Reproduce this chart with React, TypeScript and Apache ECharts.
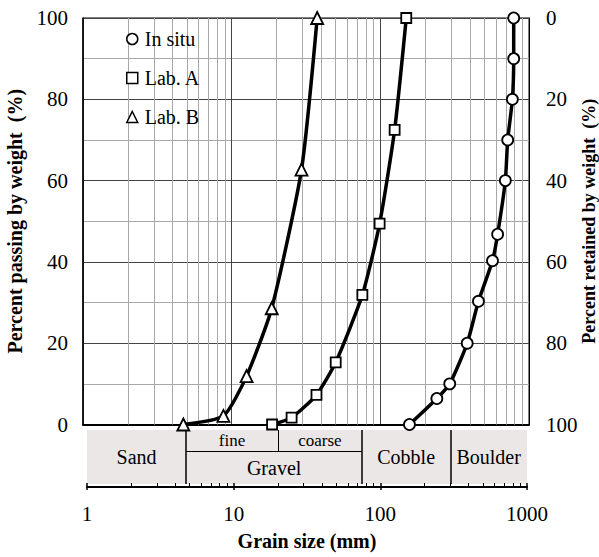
import React, { useEffect, useRef } from 'react';
import * as echarts from 'echarts';

// ---- data ----
const inSituSize = [157, 240, 293, 384, 457, 568, 615, 693, 719, 773, 789, 789];
const inSituPassing = [0, 6.4, 10, 20, 30.3, 40.3, 46.8, 60, 70, 80, 90, 100];
const labASize = [18.7, 25.3, 37.2, 50.1, 75.7, 98.9, 124.8, 149.4];
const labAPassing = [0, 1.7, 7.3, 15.3, 31.9, 49.4, 72.5, 100];
const labBSize = [4.73, 8.8, 12.6, 18.6, 29.5, 37.6];
const labBPassing = [0, 2.1, 11.9, 28.6, 62.7, 100];

// soil classes: boundaries (mm) and names
const classBounds = [1, 4.75, 20, 75, 300, 1000];
const classNames = ['Sand', 'Gravel', 'Cobble', 'Boulder'];
const gravelSubNames = ['fine', 'coarse'];

const decades = [1, 10, 100];
const minorMultipliers = [2, 3, 4, 5, 6, 7, 8, 9];
const majorXTicks = [1, 10, 100, 1000];

const FONT = "'Liberation Serif', 'Times New Roman', serif";

const zip = (xs: number[], ys: number[]) => xs.map((x, i) => [x, ys[i]]);

export default function App() {
  const ref = useRef<HTMLDivElement>(null);
  useEffect(() => {
    if (!ref.current) return;
    const chart = echarts.init(ref.current, null, { renderer: 'svg' });
    const minorX = decades.flatMap((d) => minorMultipliers.map((m) => m * d));

    // band geometry in band-grid units (pixels above the lower axis)
    const bandBottom = 3;
    const bandMid = 36;
    const bandTop = 57;

    const [b0, b1, b2, b3, b4, b5] = classBounds;

    const markerStyle = { color: '#fff', borderColor: '#000', borderWidth: 1.8 };
    const lineSeries = (name: string, data: number[][], symbol: string, size: number) => ({
      name,
      type: 'line',
      xAxisIndex: 0,
      yAxisIndex: 0,
      data,
      symbol,
      symbolSize: size,
      showAllSymbol: true,
      smooth: 0.2,
      clip: false,
      z: 3,
      lineStyle: { color: '#000', width: 3.5 },
      itemStyle: markerStyle,
    });
    const legendIcon = { color: '#fff', borderColor: '#000', borderWidth: 1.5 };

    const option: any = {
      animation: false,
      backgroundColor: '#fff',
      textStyle: { fontFamily: FONT, color: '#000' },
      grid: [
        { left: 83, top: 18, width: 446, height: 406.5, show: true, borderColor: '#000', borderWidth: 1, backgroundColor: 'transparent', containLabel: false, outerBoundsMode: 'none' },
        { left: 87, top: 430, width: 440, height: 61, containLabel: false, outerBoundsMode: 'none' },
      ],
      legend: {
        orient: 'vertical',
        left: 121,
        top: 24,
        itemWidth: 11,
        itemHeight: 11,
        itemGap: 19,
        selectedMode: false,
        textStyle: { fontSize: 20, fontFamily: FONT, color: '#000', padding: [0, 0, 0, 2] },
        data: [
          { name: 'In situ', icon: 'circle', itemStyle: legendIcon },
          { name: 'Lab. A', icon: 'rect', itemStyle: legendIcon },
          { name: 'Lab. B', icon: 'triangle', itemStyle: legendIcon },
        ],
      },
      xAxis: [
        {
          type: 'log',
          gridIndex: 0,
          logBase: 10,
          min: 1,
          max: 1000,
          axisLine: { show: true, lineStyle: { color: '#000', width: 2 } },
          axisTick: { show: false },
          axisLabel: { show: false },
          splitLine: { show: true, lineStyle: { color: '#444', width: 1 } },
        },
        {
          type: 'log',
          gridIndex: 1,
          logBase: 10,
          min: 1,
          max: 1000,
          axisLine: { show: true, onZero: true, lineStyle: { color: '#000', width: 2 } },
          axisTick: { show: false },
          axisLabel: { show: true, fontSize: 21, margin: 12, color: '#000', fontFamily: FONT, formatter: (v: number) => String(v) },
          splitLine: { show: false },
          name: 'Grain size (mm)',
          nameLocation: 'middle',
          nameGap: 40,
          nameMoveOverlap: false,
          nameTextStyle: { fontSize: 20, fontWeight: 'bold', fontFamily: FONT, color: '#000' },
        },
      ],
      yAxis: [
        {
          type: 'value',
          gridIndex: 0,
          position: 'left',
          min: 0,
          max: 100,
          interval: 20,
          name: 'Percent passing by weight  (%)',
          nameLocation: 'middle',
          nameRotate: 90,
          nameGap: 58,
          nameMoveOverlap: false,
          nameTextStyle: { fontSize: 20, fontWeight: 'bold', fontFamily: FONT, color: '#000' },
          axisLine: { show: true, lineStyle: { color: '#000', width: 1.5 } },
          axisTick: { show: false },
          axisLabel: { fontSize: 21, margin: 15, color: '#000', fontFamily: FONT },
          splitLine: { show: true, lineStyle: { color: '#444', width: 1 } },
          minorTick: { show: false, splitNumber: 2 },
          minorSplitLine: { show: true, lineStyle: { color: '#a8a8a8', width: 1 } },
        },
        {
          type: 'value',
          gridIndex: 0,
          position: 'right',
          inverse: true,
          min: 0,
          max: 100,
          interval: 20,
          name: 'Percent retained by weight  (%)',
          nameLocation: 'middle',
          nameRotate: 90,
          nameGap: 51,
          nameMoveOverlap: false,
          nameTextStyle: { fontSize: 18, fontWeight: 'bold', fontFamily: FONT, color: '#000' },
          axisLine: { show: true, lineStyle: { color: '#000', width: 1 } },
          axisTick: { show: false },
          axisLabel: { fontSize: 21, margin: 17, color: '#000', fontFamily: FONT },
          splitLine: { show: false },
        },
        { type: 'value', gridIndex: 1, min: -4, max: 57, show: false },
      ],
      series: [
        {
          name: 'minor-grid',
          type: 'line',
          xAxisIndex: 0,
          yAxisIndex: 0,
          data: [],
          silent: true,
          markLine: {
            silent: true,
            z: 1,
            symbol: ['none', 'none'],
            label: { show: false },
            lineStyle: { color: '#a8a8a8', width: 1, type: 'solid' },
            data: minorX.map((v) => ({ xAxis: v })),
          },
        },
        lineSeries('In situ', zip(inSituSize, inSituPassing), 'circle', 11),
        lineSeries('Lab. A', zip(labASize, labAPassing), 'rect', 10),
        lineSeries('Lab. B', zip(labBSize, labBPassing), 'triangle', 12),
        {
          name: 'classes',
          type: 'line',
          xAxisIndex: 1,
          yAxisIndex: 2,
          data: [],
          silent: true,
          markArea: {
            silent: true,
            itemStyle: { color: '#ebe7e7' },
            label: { show: true, position: 'inside', color: '#000', fontSize: 20, fontFamily: FONT },
            data: [
              [{ name: classNames[0], coord: [b0, bandBottom] }, { coord: [b1, bandTop] }],
              [{ name: gravelSubNames[0], coord: [b1, bandMid], label: { fontSize: 17 } }, { coord: [b2, bandTop] }],
              [{ name: gravelSubNames[1], coord: [b2, bandMid], label: { fontSize: 17 } }, { coord: [b3, bandTop] }],
              [{ name: classNames[1], coord: [b1, bandBottom] }, { coord: [b3, bandMid] }],
              [{ name: classNames[2], coord: [b3, bandBottom] }, { coord: [b4, bandTop] }],
              [{ name: classNames[3], coord: [b4, bandBottom] }, { coord: [b5, bandTop] }],
            ],
          },
          markLine: {
            silent: true,
            symbol: ['none', 'none'],
            label: { show: false },
            lineStyle: { color: '#000', width: 1.5, type: 'solid' },
            data: [
              [{ coord: [b1, bandBottom] }, { coord: [b1, bandTop] }],
              [{ coord: [b3, bandBottom] }, { coord: [b3, bandTop] }],
              [{ coord: [b4, bandBottom] }, { coord: [b4, bandTop] }],
              [{ coord: [b2, bandMid], lineStyle: { width: 1 } }, { coord: [b2, bandTop] }],
              [{ coord: [b1, bandMid], lineStyle: { width: 1 } }, { coord: [b3, bandMid] }],
              ...minorX.map((v) => [{ coord: [v, 0], lineStyle: { width: 1 } }, { coord: [v, 4] }]),
              ...majorXTicks.map((v) => [{ coord: [v, -3], lineStyle: { width: 1.5 } }, { coord: [v, 4] }]),
            ],
          },
        },
      ],
    };
    chart.setOption(option);
    return () => chart.dispose();
  }, []);
  return <div ref={ref} style={{ width: 599, height: 557, position: 'absolute', left: 0, top: 0 }} />;
}
